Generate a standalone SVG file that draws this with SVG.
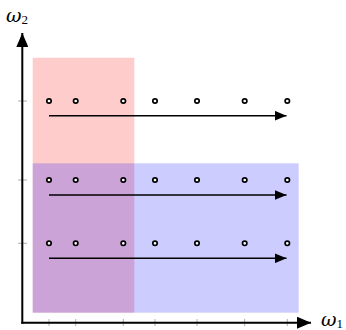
<svg xmlns="http://www.w3.org/2000/svg" width="346" height="330" viewBox="0 0 346 330">
<style>
.pt{fill:#fff;stroke:#000;stroke-width:1.7}
.tick{stroke:#999;stroke-width:0.8}
.ax{stroke:#000;stroke-width:2;fill:none}
.arr{stroke:#000;stroke-width:1.6;fill:none}
.lbl{font-family:"DejaVu Serif","Liberation Serif",serif;font-style:italic;font-size:19px;fill:#000}
.sub{font-family:"Liberation Serif","DejaVu Serif",serif;font-size:13px;font-style:normal}
</style>
<defs>
<marker id="ah" markerWidth="12" markerHeight="10" refX="12" refY="5" orient="auto" markerUnits="userSpaceOnUse"><path d="M0,0 L12,5 L0,10 Z" fill="#000"/></marker>
<marker id="axh" markerWidth="14" markerHeight="12" refX="14" refY="6" orient="auto" markerUnits="userSpaceOnUse"><path d="M0,0 L14,6 L0,12 Z" fill="#000"/></marker>
</defs>
<g id="regions">
<rect id="red-region" x="32.7" y="57.7" width="101.6" height="255" fill="#f00" fill-opacity="0.2"/>
<rect id="blue-region" x="32.7" y="163.3" width="266" height="149.4" fill="#00f" fill-opacity="0.2"/>
</g>
<g id="ticks">
<line class="tick" x1="49" y1="319" x2="49" y2="326"/>
<line class="tick" x1="75.7" y1="319" x2="75.7" y2="326"/>
<line class="tick" x1="123.3" y1="319" x2="123.3" y2="326"/>
<line class="tick" x1="155" y1="319" x2="155" y2="326"/>
<line class="tick" x1="197" y1="319" x2="197" y2="326"/>
<line class="tick" x1="244.7" y1="319" x2="244.7" y2="326"/>
<line class="tick" x1="287.3" y1="319" x2="287.3" y2="326"/>
<line class="tick" x1="18" y1="101" x2="27" y2="101"/>
<line class="tick" x1="18" y1="180" x2="27" y2="180"/>
<line class="tick" x1="18" y1="243.3" x2="27" y2="243.3"/>
</g>
<g id="axes">
<line class="ax" x1="22.3" y1="323.7" x2="22.3" y2="33" marker-end="url(#axh)"/>
<line class="ax" x1="21.3" y1="322.7" x2="311" y2="322.7" marker-end="url(#axh)"/>
</g>
<g id="connectors">
<line class="arr" x1="49" y1="115.7" x2="286.5" y2="115.7" marker-end="url(#ah)"/>
<line class="arr" x1="49" y1="195" x2="286.5" y2="195" marker-end="url(#ah)"/>
<line class="arr" x1="49" y1="258.3" x2="286.5" y2="258.3" marker-end="url(#ah)"/>
</g>
<g id="points">
<g id="row1">
<circle class="pt" cx="49" cy="101" r="2.2"/><circle class="pt" cx="75.7" cy="101" r="2.2"/><circle class="pt" cx="123.3" cy="101" r="2.2"/><circle class="pt" cx="155" cy="101" r="2.2"/><circle class="pt" cx="197" cy="101" r="2.2"/><circle class="pt" cx="244.7" cy="101" r="2.2"/><circle class="pt" cx="287.3" cy="101" r="2.2"/>
</g>
<g id="row2">
<circle class="pt" cx="49" cy="180" r="2.2"/><circle class="pt" cx="75.7" cy="180" r="2.2"/><circle class="pt" cx="123.3" cy="180" r="2.2"/><circle class="pt" cx="155" cy="180" r="2.2"/><circle class="pt" cx="197" cy="180" r="2.2"/><circle class="pt" cx="244.7" cy="180" r="2.2"/><circle class="pt" cx="287.3" cy="180" r="2.2"/>
</g>
<g id="row3">
<circle class="pt" cx="49" cy="243.3" r="2.2"/><circle class="pt" cx="75.7" cy="243.3" r="2.2"/><circle class="pt" cx="123.3" cy="243.3" r="2.2"/><circle class="pt" cx="155" cy="243.3" r="2.2"/><circle class="pt" cx="197" cy="243.3" r="2.2"/><circle class="pt" cx="244.7" cy="243.3" r="2.2"/><circle class="pt" cx="287.3" cy="243.3" r="2.2"/>
</g>
</g>
<g id="labels">
<text id="omega2" class="lbl" x="6" y="22">ω<tspan class="sub" dy="1.5">2</tspan></text>
<text id="omega1" class="lbl" x="321" y="326">ω<tspan class="sub" dy="1.5">1</tspan></text>
</g>
</svg>
